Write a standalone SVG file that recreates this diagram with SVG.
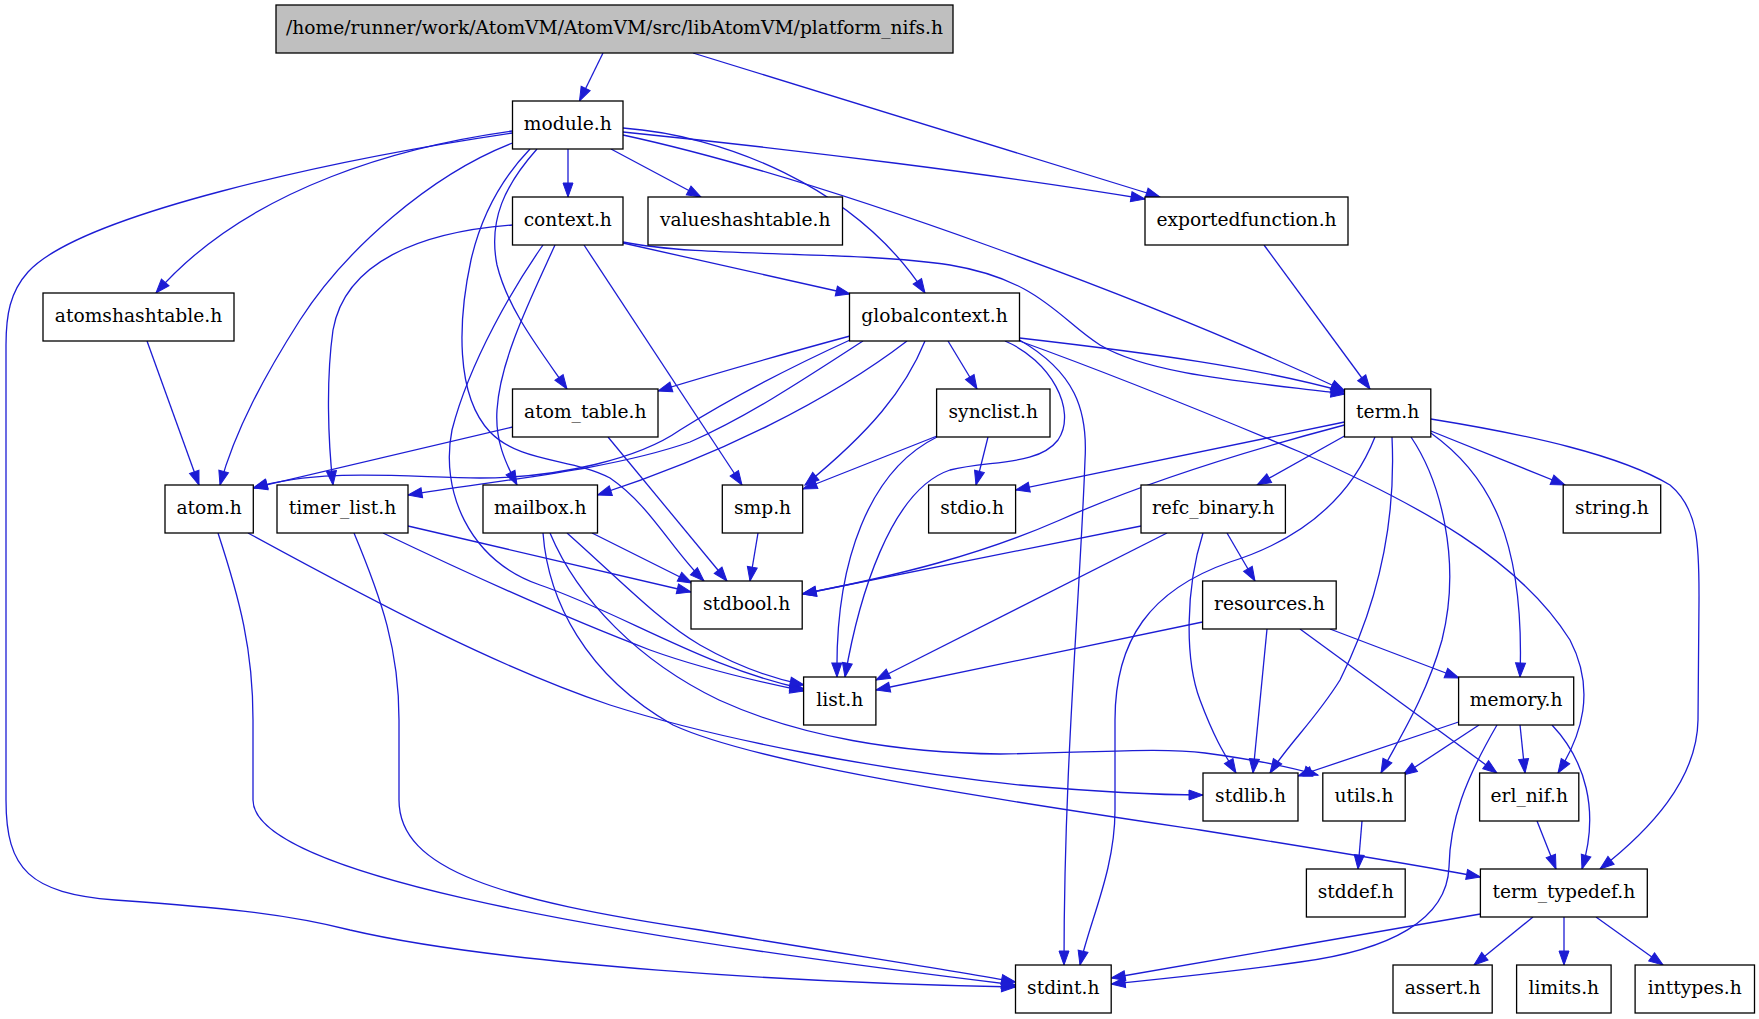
<svg xmlns="http://www.w3.org/2000/svg" width="1759" height="1019" viewBox="0 0 1759 1019">
<defs>
<style>
.n rect{fill:#ffffff;stroke:#000000;stroke-width:1.3}
.n.root rect{fill:#bfbfbf}
.n text{font-family:"DejaVu Serif","Liberation Serif",serif;font-size:18.67px;text-anchor:middle;fill:#000}
#edges path{fill:none;stroke:#1c1cd4;stroke-width:1.3;marker-end:url(#ah)}
</style>
<marker id="ah" markerUnits="userSpaceOnUse" markerWidth="14" markerHeight="10" refX="14" refY="5" orient="auto" overflow="visible">
<path d="M0,0 L14,5 L0,10 z" fill="#1c1cd4" stroke="#1c1cd4" stroke-width="1"/>
</marker>
</defs>
<rect x="0" y="0" width="1759" height="1019" fill="#ffffff"/>
<g id="edges">
<path d="M603,53 L579.5,101"/>
<path d="M693,53 L1160,197"/>
<path d="M512.5,131 C410,145 250,185 156,293"/>
<path d="M512.5,143 C430,175 345,250 300,320 C265,375 235,430 220,485"/>
<path d="M512.5,133 C330,160 80,215 28,272 C10,292 6,315 6,345 L6,800 C6,870 30,893 115,900 C210,907 280,912 350,930 C500,965 800,983 1015.5,987"/>
<path d="M537,149 C505,185 488,220 497,265 C508,310 540,350 567,389"/>
<path d="M530,149 C505,175 482,212 471,260 C458,320 455,395 490,432 C520,463 572,458 610,478 C650,505 672,550 704,581"/>
<path d="M568,149 L568,197"/>
<path d="M611,149 L701,197"/>
<path d="M623,128 C720,135 855,185 925,293"/>
<path d="M623,132 C800,150 1000,175 1145,199"/>
<path d="M623,135 C830,180 1150,300 1345,391"/>
<path d="M512.5,225 C420,232 345,262 333,330 C326,380 328,440 333,485"/>
<path d="M543,245 C515,285 470,360 452,430 C440,490 468,560 540,585 C620,612 705,668 804,689"/>
<path d="M555,245 C530,300 500,360 497,410 C495,440 505,462 517,485"/>
<path d="M584,245 L742,485"/>
<path d="M623,243 L850,294"/>
<path d="M623,242 C700,258 850,250 950,265 C1040,280 1060,320 1100,345 C1150,375 1250,382 1345,394"/>
<path d="M1264,245 L1370,389"/>
<path d="M147,341 L199,485"/>
<path d="M850,336 C780,355 710,375 658,391"/>
<path d="M850,340 C780,372 720,405 680,430 C640,458 560,478 480,478 C400,477 320,468 253.3,488"/>
<path d="M863,341 C800,382 745,418 690,442 C610,470 500,480 408,495"/>
<path d="M907,341 C830,400 720,455 597.5,495"/>
<path d="M925,341 C905,390 870,432 805,485"/>
<path d="M948,341 L977,389"/>
<path d="M1005,341 C1050,360 1078,410 1058,440 C1038,466 990,460 950,470 C890,490 858,600 845,677"/>
<path d="M1019.5,340 C1075,372 1088,410 1085,460 C1080,600 1064,760 1064,965"/>
<path d="M1019.5,338 C1150,353 1260,368 1345,392"/>
<path d="M1019.5,341 C1100,370 1200,410 1300,452 C1420,505 1520,560 1570,640 C1596,690 1582,735 1558,773"/>
<path d="M408,526 L691,592"/>
<path d="M383,533 C450,565 550,612 650,650 C700,668 750,680 804,691"/>
<path d="M354,533 C382,600 399,650 399,720 L399,800 C399,870 500,900 700,930 C850,955 950,970 1015.5,982"/>
<path d="M512.5,427 L253.3,488"/>
<path d="M608,437 L727,581"/>
<path d="M218,533 C240,600 253,650 253,720 L253,800 C253,870 560,930 1015.5,985"/>
<path d="M248,533 C380,605 500,668 610,705 C720,740 880,770 1020,785 C1110,793 1160,795 1203,795"/>
<path d="M592,533 L692,583"/>
<path d="M567,533 C620,580 660,622 700,645 C735,665 770,678 804,685"/>
<path d="M550,533 C578,600 640,662 719,700 C800,737 900,753 1000,754 C1090,753 1160,747 1205,753 C1250,759 1290,767 1318,775"/>
<path d="M543,533 C548,600 585,675 673,725 C760,765 1000,800 1200,830 C1300,846 1400,862 1480.4,877"/>
<path d="M758,533 L750,581"/>
<path d="M937,436 L803,489"/>
<path d="M937,437 C870,470 835,560 837,677"/>
<path d="M988,437 L976,485"/>
<path d="M1344.5,422 L1015.6,490"/>
<path d="M1344.5,425 C1250,450 1150,480 1060,520 C980,555 900,575 802.2,594"/>
<path d="M1344.5,436 L1257,485"/>
<path d="M1375,437 C1350,500 1300,540 1230,562 C1150,590 1115,640 1115,720 L1115,810 C1115,870 1090,920 1080,965"/>
<path d="M1392,437 C1396,520 1380,600 1340,680 C1315,720 1290,742 1270,773"/>
<path d="M1411,437 C1440,480 1462,560 1442,640 C1425,700 1398,740 1381,773"/>
<path d="M1430.8,433 C1490,475 1525,540 1520,677"/>
<path d="M1430.8,431 L1565,485"/>
<path d="M1430.8,419 C1530,435 1620,455 1670,485 C1700,510 1699,550 1699,600 L1698,720 C1697,780 1650,830 1600,869"/>
<path d="M1141,526 L802.2,594"/>
<path d="M1167,533 L876,680"/>
<path d="M1203,533 C1185,590 1185,660 1200,700 C1215,740 1225,755 1236,773"/>
<path d="M1227,533 L1255,581"/>
<path d="M1202.6,622 L876,690"/>
<path d="M1267,629 L1253,773"/>
<path d="M1300,629 L1497,773"/>
<path d="M1330,629 L1459,678"/>
<path d="M1458.6,722 L1298,776"/>
<path d="M1479,725 L1403,775"/>
<path d="M1520,725 L1525,773"/>
<path d="M1552,725 C1585,760 1600,810 1582,869"/>
<path d="M1497,725 C1465,780 1450,820 1449,867 C1447,920 1390,950 1300,962 C1230,972 1170,978 1111.2,984"/>
<path d="M1362,821 L1358,869"/>
<path d="M1537,821 L1556,869"/>
<path d="M1480.4,914 L1111.2,978"/>
<path d="M1533,917 L1474,965"/>
<path d="M1564,917 L1564,965"/>
<path d="M1596,917 L1663,965"/>
</g>
<g id="platform_nifs_h" class="n root"><rect x="276" y="5" width="677" height="48"/><text x="614.5" y="34">/home/runner/work/AtomVM/AtomVM/src/libAtomVM/platform_nifs.h</text></g>
<g id="module_h" class="n"><rect x="512.5" y="101" width="110.5" height="48"/><text x="567.75" y="130">module.h</text></g>
<g id="context_h" class="n"><rect x="512.5" y="197" width="110.5" height="48"/><text x="567.75" y="226">context.h</text></g>
<g id="valueshashtable_h" class="n"><rect x="648" y="197" width="194.5" height="48"/><text x="745.25" y="226">valueshashtable.h</text></g>
<g id="exportedfunction_h" class="n"><rect x="1145" y="197" width="203" height="48"/><text x="1246.5" y="226">exportedfunction.h</text></g>
<g id="atomshashtable_h" class="n"><rect x="43" y="293" width="191" height="48"/><text x="138.5" y="322">atomshashtable.h</text></g>
<g id="globalcontext_h" class="n"><rect x="849.5" y="293" width="170" height="48"/><text x="934.5" y="322">globalcontext.h</text></g>
<g id="atom_table_h" class="n"><rect x="512.5" y="389" width="145.5" height="48"/><text x="585.25" y="418">atom_table.h</text></g>
<g id="synclist_h" class="n"><rect x="936.6" y="389" width="113.4" height="48"/><text x="993.3" y="418">synclist.h</text></g>
<g id="term_h" class="n"><rect x="1344.5" y="389" width="86.3" height="48"/><text x="1387.65" y="418">term.h</text></g>
<g id="atom_h" class="n"><rect x="165" y="485" width="88.3" height="48"/><text x="209.15" y="514">atom.h</text></g>
<g id="timer_list_h" class="n"><rect x="277" y="485" width="131" height="48"/><text x="342.5" y="514">timer_list.h</text></g>
<g id="mailbox_h" class="n"><rect x="483" y="485" width="114.5" height="48"/><text x="540.25" y="514">mailbox.h</text></g>
<g id="smp_h" class="n"><rect x="722.3" y="485" width="80.4" height="48"/><text x="762.5" y="514">smp.h</text></g>
<g id="stdio_h" class="n"><rect x="928.6" y="485" width="87" height="48"/><text x="972.1" y="514">stdio.h</text></g>
<g id="refc_binary_h" class="n"><rect x="1141" y="485" width="144.4" height="48"/><text x="1213.2" y="514">refc_binary.h</text></g>
<g id="string_h" class="n"><rect x="1563.2" y="485" width="97.5" height="48"/><text x="1611.95" y="514">string.h</text></g>
<g id="stdbool_h" class="n"><rect x="691" y="581" width="111.2" height="48"/><text x="746.6" y="610">stdbool.h</text></g>
<g id="resources_h" class="n"><rect x="1202.6" y="581" width="133.6" height="48"/><text x="1269.4" y="610">resources.h</text></g>
<g id="list_h" class="n"><rect x="803.6" y="677" width="72.3" height="48"/><text x="839.75" y="706">list.h</text></g>
<g id="memory_h" class="n"><rect x="1458.6" y="677" width="115.1" height="48"/><text x="1516.15" y="706">memory.h</text></g>
<g id="stdlib_h" class="n"><rect x="1203" y="773" width="95" height="48"/><text x="1250.5" y="802">stdlib.h</text></g>
<g id="utils_h" class="n"><rect x="1322.8" y="773" width="82.4" height="48"/><text x="1364" y="802">utils.h</text></g>
<g id="erl_nif_h" class="n"><rect x="1479.6" y="773" width="99.2" height="48"/><text x="1529.2" y="802">erl_nif.h</text></g>
<g id="stddef_h" class="n"><rect x="1306.4" y="869" width="98.8" height="48"/><text x="1355.8" y="898">stddef.h</text></g>
<g id="term_typedef_h" class="n"><rect x="1480.4" y="869" width="166.9" height="48"/><text x="1563.85" y="898">term_typedef.h</text></g>
<g id="stdint_h" class="n"><rect x="1015.5" y="965" width="95.7" height="48"/><text x="1063.35" y="994">stdint.h</text></g>
<g id="assert_h" class="n"><rect x="1393" y="965" width="99.2" height="48"/><text x="1442.6" y="994">assert.h</text></g>
<g id="limits_h" class="n"><rect x="1516.6" y="965" width="94.5" height="48"/><text x="1563.85" y="994">limits.h</text></g>
<g id="inttypes_h" class="n"><rect x="1635.1" y="965" width="119.4" height="48"/><text x="1694.8" y="994">inttypes.h</text></g>
</svg>
